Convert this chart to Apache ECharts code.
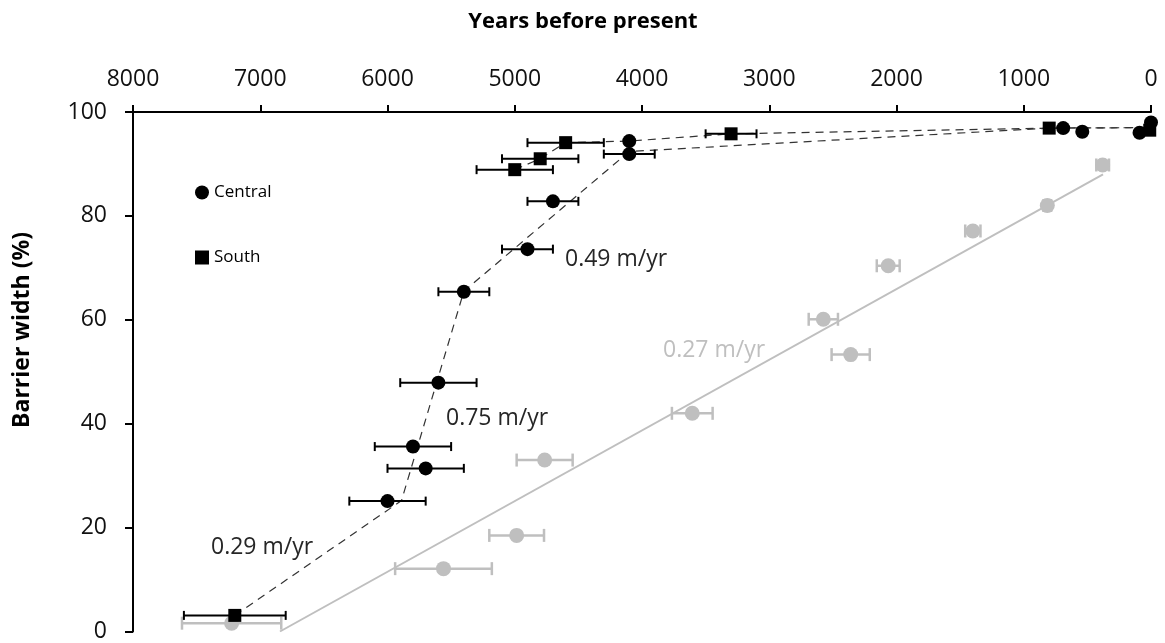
<!DOCTYPE html>
<html lang="en">
<head>
    <meta charset="UTF-8">
    <title>Barrier width</title>
</head>
<style>
    html, body { margin: 0; padding: 0; background: #fff; }
    #main { width: 1165px; height: 643px; }
</style>
<body>
<div id="main"></div>
<script type="text/javascript" src="https://cdn.jsdelivr.net/npm/echarts@6/dist/echarts.min.js"></script>
<script>
    // data: years before present, barrier width (%), age error (yr)
    var centralYears = [0, 90, 540, 690, 4100, 4100, 4700, 4900, 5400, 5600, 5800, 5700, 6000];
    var centralWidth = [98.0, 96.0, 96.2, 96.9, 94.4, 91.9, 82.8, 73.6, 65.4, 47.9, 35.6, 31.4, 25.1];
    var centralErr = [0, 0, 0, 0, 0, 200, 200, 200, 200, 300, 300, 300, 300];

    var southYears = [7200, 5000, 4800, 4600, 3300, 800, 10];
    var southWidth = [3.1, 88.9, 91.0, 94.1, 95.8, 96.9, 96.5];
    var southErr = [400, 300, 300, 300, 200, 0, 0];

    var greyYears = [7225, 5560, 4985, 4765, 3605, 2360, 2575, 2065, 1400, 815, 380];
    var greyWidth = [1.6, 12.1, 18.5, 33.0, 42.0, 53.3, 60.1, 70.4, 77.1, 82.0, 89.8];
    var greyErr = [390, 380, 215, 220, 160, 150, 115, 90, 60, 30, 50];

    // trend lines
    var centralTrend = [[7200, 3.1], [5890, 25.2], [5400, 65.5], [4100, 92.4], [800, 96.9], [0, 97.0]];
    var southTrend = [[5000, 88.9], [4800, 91.0], [4600, 94.1], [4100, 94.4], [3300, 95.8], [800, 96.9], [0, 97.0]];
    var greyTrend = [[6845, 0], [377, 88]];

    var xTicks = [0, 8000, 1000];
    var yTicks = [0, 100, 20];

    var FONT = '"Open Sans", "Noto Sans", sans-serif';
    var GREY = '#bfbfbf';

    function pts(xs, ys, es) {
        var out = [];
        for (var i = 0; i < xs.length; i++) {
            out.push([xs[i], ys[i], es ? es[i] : 0]);
        }
        return out;
    }
    function withErr(xs, ys, es) {
        return pts(xs, ys, es).filter(function (d) { return d[2] > 0; });
    }

    // horizontal error bar with caps
    function errBar(color, lw, cap) {
        return function (params, api) {
            var x = api.value(0), y = api.value(1), e = api.value(2);
            var a = api.coord([x - e, y]);
            var b = api.coord([x + e, y]);
            var h = cap / 2;
            var st = { stroke: color, lineWidth: lw };
            return {
                type: 'group',
                children: [
                    { type: 'line', shape: { x1: a[0], y1: a[1], x2: b[0], y2: b[1] }, style: st },
                    { type: 'line', shape: { x1: a[0], y1: a[1] - h, x2: a[0], y2: a[1] + h }, style: st },
                    { type: 'line', shape: { x1: b[0], y1: b[1] - h, x2: b[0], y2: b[1] + h }, style: st }
                ]
            };
        };
    }

    var myChart = echarts.init(document.getElementById('main'));

    var option = {
        animation: false,
        backgroundColor: '#fff',
        grid: { left: 133, right: 14, top: 112, bottom: 9 },
        legend: {
            data: ['Central', 'South'],
            orient: 'vertical',
            left: 190,
            top: 179,
            itemWidth: 14,
            itemHeight: 14,
            itemGap: 48,
            textStyle: { fontFamily: FONT, fontSize: 17, color: '#000' }
        },
        xAxis: {
            type: 'value',
            position: 'top',
            inverse: true,
            min: xTicks[0],
            max: xTicks[1],
            interval: xTicks[2],
            splitLine: { show: false },
            axisLine: { onZero: false, lineStyle: { color: '#000', width: 2 } },
            axisTick: { inside: false, length: 7, lineStyle: { color: '#000', width: 2 } },
            axisLabel: {
                margin: 21, fontFamily: FONT, fontSize: 23, color: '#111',
                formatter: function (v) { return String(v); }
            }
        },
        yAxis: {
            type: 'value',
            position: 'left',
            min: yTicks[0],
            max: yTicks[1],
            interval: yTicks[2],
            splitLine: { show: false },
            axisLine: { onZero: false, lineStyle: { color: '#000', width: 2 } },
            axisTick: { length: 8, lineStyle: { color: '#000', width: 2 } },
            axisLabel: { margin: 26, fontFamily: FONT, fontSize: 23, color: '#111' }
        },
        graphic: [
            { type: 'text', x: 583, y: 22, style: { text: 'Years before present', font: 'bold 22px ' + FONT, fill: '#000', align: 'center', verticalAlign: 'middle' } },
            { type: 'text', x: 22, y: 330, rotation: Math.PI / 2, style: { text: 'Barrier width (%)', font: 'bold 23px ' + FONT, fill: '#000', align: 'center', verticalAlign: 'middle' } },
            { type: 'text', x: 565, y: 259, style: { text: '0.49 m/yr', font: '23px ' + FONT, fill: '#262626', verticalAlign: 'middle' } },
            { type: 'text', x: 446, y: 418, style: { text: '0.75 m/yr', font: '23px ' + FONT, fill: '#262626', verticalAlign: 'middle' } },
            { type: 'text', x: 211, y: 547, style: { text: '0.29 m/yr', font: '23px ' + FONT, fill: '#262626', verticalAlign: 'middle' } },
            { type: 'text', x: 663, y: 350, style: { text: '0.27 m/yr', font: '23px ' + FONT, fill: GREY, verticalAlign: 'middle' } }
        ],
        series: [
            {
                type: 'line', data: greyTrend, symbol: 'none', silent: true, z: 1,
                lineStyle: { color: GREY, width: 2 }
            },
            {
                type: 'custom', renderItem: errBar(GREY, 2.5, 13), silent: true, z: 2,
                encode: { x: 0, y: 1 }, data: withErr(greyYears, greyWidth, greyErr)
            },
            {
                name: 'Grey', type: 'scatter', symbol: 'circle', symbolSize: 15, z: 3,
                itemStyle: { color: GREY, opacity: 1 }, data: pts(greyYears, greyWidth)
            },
            {
                type: 'line', data: centralTrend, symbol: 'none', silent: true, z: 4,
                lineStyle: { color: '#333', width: 1.2, type: [8, 6] }
            },
            {
                type: 'line', data: southTrend, symbol: 'none', silent: true, z: 4,
                lineStyle: { color: '#333', width: 1.2, type: [8, 6] }
            },
            {
                type: 'custom', renderItem: errBar('#000', 2, 9), silent: true, z: 5,
                encode: { x: 0, y: 1 }, data: withErr(centralYears, centralWidth, centralErr)
            },
            {
                type: 'custom', renderItem: errBar('#000', 2, 9), silent: true, z: 5,
                encode: { x: 0, y: 1 }, data: withErr(southYears, southWidth, southErr)
            },
            {
                name: 'Central', type: 'scatter', symbol: 'circle', symbolSize: 14, z: 6,
                itemStyle: { color: '#000', opacity: 1 }, data: pts(centralYears, centralWidth)
            },
            {
                name: 'South', type: 'scatter', symbol: 'rect', symbolSize: 13, z: 6,
                itemStyle: { color: '#000', opacity: 1 }, data: pts(southYears, southWidth)
            }
        ]
    };

    myChart.setOption(option);
</script>
</body>
</html>
